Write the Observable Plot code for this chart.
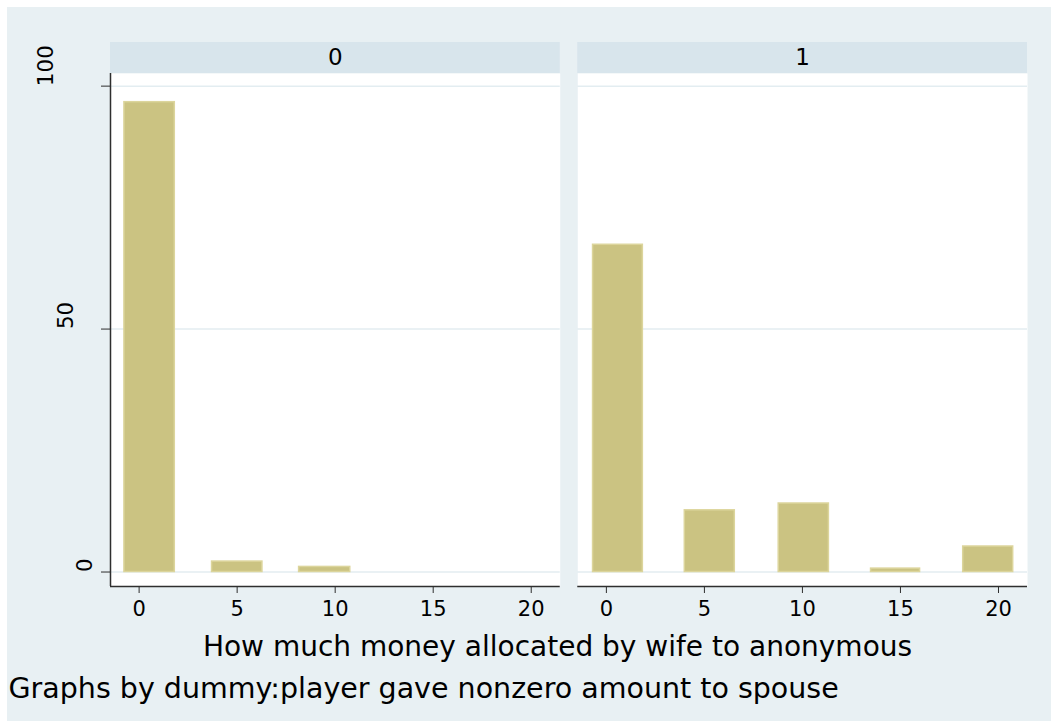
<!DOCTYPE html>
<html>
<head>
<meta charset="utf-8">
<script src="https://cdn.jsdelivr.net/npm/d3@7"></script>
<script src="https://cdn.jsdelivr.net/npm/@observablehq/plot@0.6"></script>
<style>
  html, body { margin: 0; padding: 0; background: #ffffff; }
  #wrap { position: relative; width: 1051px; height: 721px; overflow: hidden; font-family: "DejaVu Sans", sans-serif; }
  #bg { position: absolute; left: 7px; top: 7px; right: 0; bottom: 0; background: #e8f0f3; }
  #chart { position: absolute; left: 0; top: 0; }
  .lbl { position: absolute; line-height: 28px; color: #000; white-space: nowrap; }
  #xtitle { left: 557.5px; top: 633px; font-size: 28px; transform: translateX(-50%); }
  #caption { left: 8.5px; top: 675px; font-size: 28.5px; }
</style>
</head>
<body>
<div id="wrap">
  <div id="bg"></div>
  <div id="chart"></div>
  <div class="lbl" id="xtitle"></div>
  <div class="lbl" id="caption"></div>
</div>
<script>
// ---- data ----
const panels = [0, 1];
const panelLabels = ["0", "1"];
// panel "0": histogram bins (lower edge, upper edge) and percent
const binLo0 = [-0.75, 3.72, 8.16];
const binHi0 = [1.82, 6.29, 10.77];
const pct0 = [96.7, 2.15, 1.05];
// panel "1"
const binLo1 = [-0.68, 4.0, 8.79, 13.5, 18.2];
const binHi1 = [1.86, 6.55, 11.35, 16.0, 20.75];
const pct1 = [67.35, 12.7, 14.1, 0.7, 5.25];
const xTicks = [0, 5, 10, 15, 20];
const yTicks = [0, 50, 100];
const xTitle = "How much money allocated by wife to anonymous";
const captionText = "Graphs by dummy:player gave nonzero amount to spouse";

// ---- build table ----
const bars = [];
binLo0.forEach((lo, i) => bars.push({panel: 0, lo, hi: binHi0[i], pct: pct0[i]}));
binLo1.forEach((lo, i) => bars.push({panel: 1, lo, hi: binHi1[i], pct: pct1[i]}));
const strips = panels.map((p, i) => ({panel: p, label: panelLabels[i]}));

const xDomain = [-1.46, 21.48];
const yDomain = [-2.98, 102.6];

const W = 1051, H = 625;
const mTop = 73, mBottom = H - 586, mLeft = 110, mRight = 24;
const frameH = H - mTop - mBottom;
const stripH = 31;

const marks = [
  Plot.frame({fill: "white", stroke: null}),
  Plot.gridY(yTicks, {stroke: "#e3edf1", strokeOpacity: 1, strokeWidth: 1.5}),
  Plot.rect(strips, {fx: "panel", fill: "#d8e5ec", insetBottom: frameH - stripH, dy: -stripH}),
  Plot.text(strips, {fx: "panel", text: "label", frameAnchor: "top", lineAnchor: "middle", dy: -stripH / 2, fontSize: 23, fill: "#000"}),
  Plot.rectY(bars, {fx: "panel", x1: "lo", x2: "hi", y1: 0, y2: "pct", fill: "#cbc382", stroke: "#dcd59c", strokeWidth: 1.5}),
  Plot.ruleY([yDomain[0]], {stroke: "#2e2e2e", strokeWidth: 1.5}),
  Plot.ruleX([{panel: 0}], {fx: "panel", x: () => xDomain[0], stroke: "#2e2e2e", strokeWidth: 1.5}),
  Plot.axisX({ticks: xTicks, tickSize: 7, tickPadding: 8, fontSize: 21, label: null, stroke: "#2e2e2e", fill: "#000"}),
  Plot.axisY({ticks: yTicks, tickSize: 9, tickFormat: () => "", label: null, stroke: "#2e2e2e"}),
  ...yTicks.map(t => Plot.text([{panel: 0, v: t}], {
    fx: "panel", y: "v", text: d => String(d.v), frameAnchor: "left", lineAnchor: "middle", rotate: -90,
    dx: -(5.5 + 19.5 * String(t).length), fontSize: 21.5, fill: "#000"
  }))
];

const chart = Plot.plot({
  width: W,
  height: H,
  marginTop: mTop,
  marginBottom: mBottom,
  marginLeft: mLeft,
  marginRight: mRight,
  style: {background: "none", fontFamily: "DejaVu Sans", fontSize: "22px", overflow: "visible"},
  fx: {domain: panels, paddingInner: 0.0375, paddingOuter: 0, round: false, axis: null, label: null},
  x: {domain: xDomain, label: null},
  y: {domain: yDomain, label: null},
  marks
});
document.getElementById("chart").appendChild(chart);
document.getElementById("xtitle").textContent = xTitle;
document.getElementById("caption").textContent = captionText;
</script>
</body>
</html>
